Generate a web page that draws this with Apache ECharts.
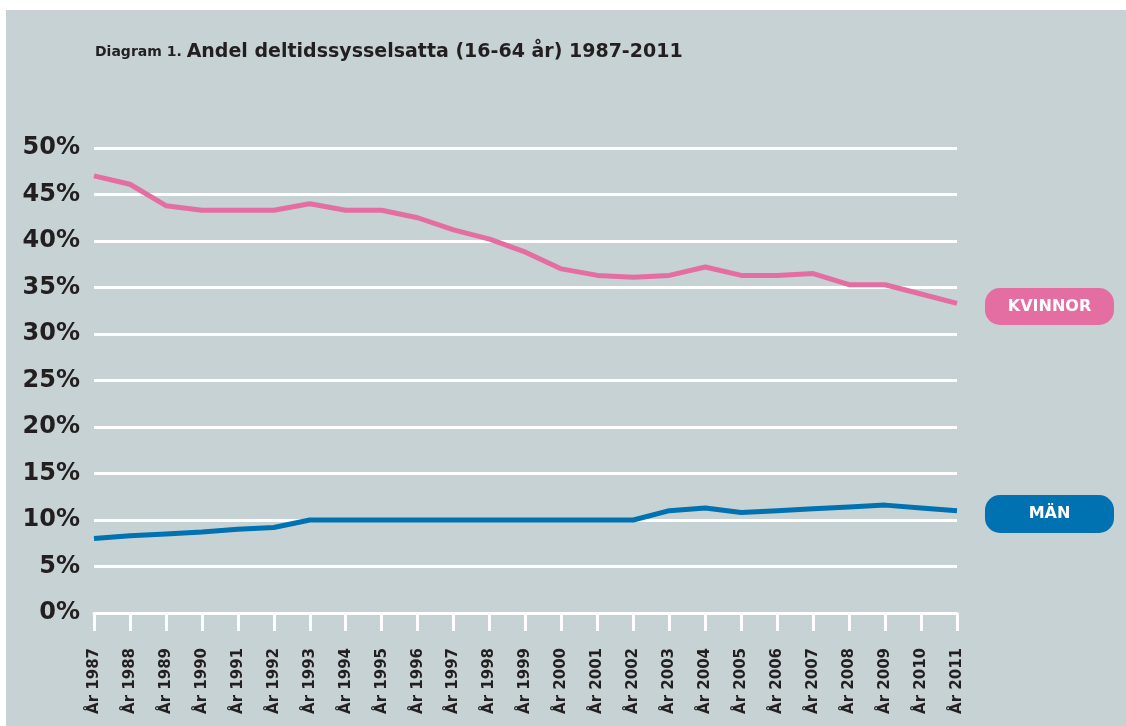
<!DOCTYPE html>
<html>
<head>
<meta charset="utf-8">
<script src="https://cdn.jsdelivr.net/npm/echarts@6/dist/echarts.min.js"></script>
<style>
html,body{margin:0;padding:0;background:#ffffff;width:1126px;height:726px;overflow:hidden;}
#chart{position:absolute;left:6px;top:10px;width:1120px;height:716px;}
</style>
</head>
<body>
<div id="chart"></div>
<script>
const years = ['1987','1988','1989','1990','1991','1992','1993','1994','1995','1996','1997','1998','1999','2000','2001','2002','2003','2004','2005','2006','2007','2008','2009','2010','2011'];
const categories = years.map(y => 'År ' + y);
const kvinnor = [47.0,46.1,43.8,43.3,43.3,43.3,44.0,43.3,43.3,42.5,41.2,40.2,38.8,37.0,36.3,36.1,36.3,37.2,36.3,36.3,36.5,35.3,35.3,34.3,33.3];
const man = [8.0,8.3,8.5,8.7,9.0,9.2,10.0,10.0,10.0,10.0,10.0,10.0,10.0,10.0,10.0,10.0,11.0,11.3,10.8,11.0,11.2,11.4,11.6,11.3,11.0];
const yTicks = [0,5,10,15,20,25,30,35,40,45,50];

const PINK = '#e46ea2';
const BLUE = '#0071b1';
const TXT = '#231f20';
const FONT = '"DejaVu Sans", Verdana, sans-serif';

const chart = echarts.init(document.getElementById('chart'), null, {renderer:'canvas'});
chart.setOption({
  backgroundColor: '#c6d2d3',
  animation: false,
  title: {
    text: '{a|Diagram 1. }{b|Andel deltidssysselsatta (16-64 år) 1987-2011}',
    left: 84, top: 28,
    textStyle: {
      rich: {
        a: {fontFamily: FONT, fontSize: 14, fontWeight: 'bold', color: TXT},
        b: {fontFamily: FONT, fontSize: 19, fontWeight: 'bold', color: TXT}
      }
    }
  },
  grid: {left: 88, right: 169, top: 138, bottom: 113, containLabel: false},
  xAxis: {
    type: 'category',
    data: categories,
    boundaryGap: false,
    axisLine: {show: true, lineStyle: {color: '#ffffff', width: 3}},
    axisTick: {show: true, length: 18, alignWithLabel: true, lineStyle: {color: '#ffffff', width: 3}},
    axisLabel: {rotate: 90, margin: 35, interval: 0, fontFamily: FONT, fontSize: 15, fontWeight: 'bold', color: TXT},
    splitLine: {show: false}
  },
  yAxis: {
    type: 'value',
    min: yTicks[0], max: yTicks[yTicks.length-1], interval: 5,
    axisLine: {show: false},
    axisTick: {show: false},
    axisLabel: {formatter: '{value}%', margin: 14, fontFamily: FONT, fontSize: 24, fontWeight: 'bold', color: TXT},
    splitLine: {show: true, lineStyle: {color: '#ffffff', width: 3}}
  },
  series: [
    {
      name: 'KVINNOR', type: 'line', data: kvinnor, symbol: 'none',
      lineStyle: {color: PINK, width: 5}, itemStyle: {color: PINK}, z: 5
    },
    {
      name: 'MÄN', type: 'line', data: man, symbol: 'none',
      lineStyle: {color: BLUE, width: 5}, itemStyle: {color: BLUE}, z: 5
    }
  ],
  graphic: [
    {
      type: 'group', left: 979, top: 278,
      children: [
        {type: 'rect', shape: {x: 0, y: 0, width: 129, height: 37, r: 15}, style: {fill: PINK}},
        {type: 'text', x: 64.5, y: 18.5, style: {text: 'KVINNOR', fill: '#ffffff', font: 'bold 16px ' + FONT, textAlign: 'center', textVerticalAlign: 'middle'}}
      ]
    },
    {
      type: 'group', left: 979, top: 485,
      children: [
        {type: 'rect', shape: {x: 0, y: 0, width: 129, height: 38, r: 15}, style: {fill: BLUE}},
        {type: 'text', x: 64.5, y: 19, style: {text: 'MÄN', fill: '#ffffff', font: 'bold 16px ' + FONT, textAlign: 'center', textVerticalAlign: 'middle'}}
      ]
    }
  ]
});
</script>
</body>
</html>
